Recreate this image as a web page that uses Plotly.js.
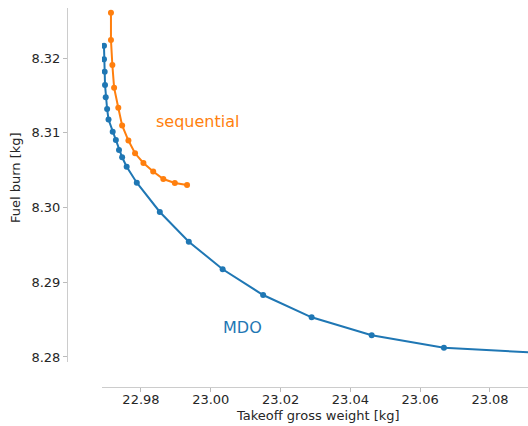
<!DOCTYPE html>
<html>
<head>
<meta charset="utf-8">
<script src="https://cdn.plot.ly/plotly-3.0.1.min.js"></script>
<style>html,body{margin:0;padding:0;background:#fff;overflow:hidden}</style>
</head>
<body>
<div id="chart" style="width:528px;height:426px"></div>
<script>
// MDO series
const mdoTOGW = [22.9694, 22.9694, 22.9696, 22.9697, 22.9699, 22.9703, 22.9707, 22.9719, 22.9728, 22.9737, 22.9746, 22.9759, 22.9788, 22.9854, 22.9937, 23.0034, 23.0150, 23.0289, 23.0461, 23.0668, 23.0940];
const mdoFuel = [8.32165, 8.31983, 8.31817, 8.31639, 8.31474, 8.31318, 8.31177, 8.31014, 8.30903, 8.30769, 8.30672, 8.30546, 8.30332, 8.29940, 8.29543, 8.29173, 8.28829, 8.28531, 8.28290, 8.28124, 8.28055];
// sequential series
const seqTOGW = [22.9714, 22.9714, 22.9718, 22.9723, 22.9735, 22.9746, 22.9764, 22.9783, 22.9807, 22.9835, 22.9864, 22.9897, 22.9932];
const seqFuel = [8.32606, 8.32241, 8.31906, 8.31603, 8.31335, 8.31097, 8.30896, 8.30725, 8.30595, 8.30482, 8.30381, 8.30328, 8.30301];

const xRange = [22.96883, 23.09089];
const yRange = [8.27933, 8.32669];
const xTitle = 'Takeoff gross weight [kg]';
const yTitle = 'Fuel burn [kg]';

const blue = '#1f77b4', orange = '#ff7f0e';
const font = 'DejaVu Sans, sans-serif';

const traces = [
  {x: mdoTOGW, y: mdoFuel, mode: 'lines+markers', name: 'MDO',
   line: {color: blue, width: 2}, marker: {color: blue, size: 6}},
  {x: seqTOGW, y: seqFuel, mode: 'lines+markers', name: 'sequential',
   line: {color: orange, width: 2}, marker: {color: orange, size: 6}}
];

const layout = {
  width: 528, height: 426,
  margin: {l: 67, r: 0, t: 8, b: 39},
  paper_bgcolor: '#fff', plot_bgcolor: '#fff',
  showlegend: false,
  font: {family: font, size: 13, color: '#262626'},
  xaxis: {
    range: xRange, domain: [0.0759, 1], anchor: 'free', position: 0,
    tick0: 22.98, dtick: 0.02, tickformat: '.2f',
    showgrid: false, zeroline: false,
    showline: true, linecolor: '#cccccc', linewidth: 1,
    ticks: 'outside', ticklen: 4, tickcolor: '#bbbbbb', tickwidth: 1,
    ticklabelstandoff: -4,
    tickfont: {family: font, size: 13, color: '#262626'}
  },
  yaxis: {
    range: yRange, domain: [0.066, 1], anchor: 'free', position: 0,
    tick0: 8.28, dtick: 0.01, tickformat: '.2f',
    showgrid: false, zeroline: false,
    showline: true, linecolor: '#cccccc', linewidth: 1,
    ticks: 'outside', ticklen: 4, tickcolor: '#bbbbbb', tickwidth: 1,
    tickfont: {family: font, size: 13, color: '#262626'}
  },
  annotations: [
    {text: 'sequential', x: 22.9962, y: 8.31157, xref: 'x', yref: 'y', showarrow: false,
     font: {family: font, size: 16, color: orange}, xanchor: 'center', yanchor: 'middle'},
    {text: 'MDO', x: 23.00923, y: 8.28401, xref: 'x', yref: 'y', showarrow: false,
     font: {family: font, size: 16, color: blue}, xanchor: 'center', yanchor: 'middle'},
    {text: xTitle, x: 0.5445, y: -0.074, xref: 'paper', yref: 'paper', showarrow: false,
     font: {family: font, size: 13, color: '#262626'}, xanchor: 'center', yanchor: 'middle'},
    {text: yTitle, x: -0.1128, y: 0.554, xref: 'paper', yref: 'paper', showarrow: false, textangle: -90,
     font: {family: font, size: 13, color: '#262626'}, xanchor: 'center', yanchor: 'middle'}
  ]
};

Plotly.newPlot('chart', traces, layout, {displayModeBar: false, staticPlot: true});
</script>
</body>
</html>
